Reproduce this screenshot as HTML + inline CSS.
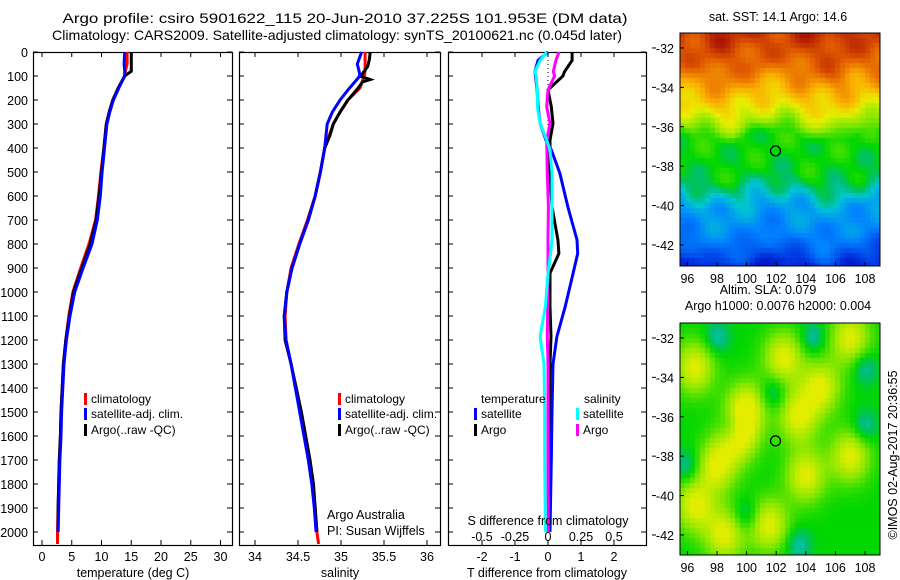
<!DOCTYPE html>
<html><head><meta charset="utf-8"><style>
body{margin:0;background:#fff;}
#wrap{position:relative;width:900px;height:580px;overflow:hidden;font-family:"Liberation Sans",sans-serif;}
svg text{font-family:"Liberation Sans",sans-serif;fill:#000;}
canvas{position:absolute;}
</style></head><body>
<div id="wrap">
<svg id="svg" width="900" height="580" style="position:absolute;left:0;top:0"></svg>
<canvas id="sst" width="200" height="233" style="left:680px;top:33px"></canvas>
<canvas id="sla" width="200" height="232" style="left:680px;top:323px"></canvas>
<svg id="ov" width="900" height="580" style="position:absolute;left:0;top:0"></svg>
</div>
<script>
// ---- data ----
const tDepth=[0,50,80,100,150,200,250,300,400,500,600,700,800,900,1000,1100,1200,1300,1400,1500,1600,1700,1800,1900,2000,2050];
const tempClim=[14.3,14.3,14.0,13.9,12.8,11.9,11.3,10.8,10.4,9.9,9.5,9.0,7.9,6.5,5.2,4.5,4.0,3.6,3.4,3.2,3.1,2.9,2.8,2.7,2.6,2.6];
const tempSat=[13.9,13.8,13.9,13.9,12.9,12.0,11.4,10.9,10.5,10.1,9.8,9.3,8.4,6.9,5.5,4.7,4.1,3.7,3.5,3.3,3.2,3.0,2.9,2.8,2.7];
const tempArgo=[15.0,15.0,15.0,13.9,12.8,11.9,11.3,10.8,10.4,10.0,9.6,9.1,8.1,6.7,5.3,4.6,4.0,3.6,3.4,3.2,3.1,2.9,2.8,2.7,2.7];
const salClim=[35.28,35.28,35.28,35.27,35.22,35.08,34.99,34.91,34.81,34.76,34.70,34.61,34.51,34.42,34.37,34.35,34.36,34.42,34.47,34.53,34.58,34.63,34.67,34.70,34.72,34.74];
const salSat=[35.24,35.19,35.21,35.22,35.10,34.99,34.90,34.84,34.81,34.76,34.70,34.62,34.52,34.43,34.37,34.34,34.36,34.42,34.47,34.52,34.57,34.62,34.66,34.69,34.71];
const salArgoDepth=[0,30,60,90,100,115,125,150,200,250,300,350,400,500,600,700,800,900,1000,1100,1200,1300,1400,1500,1600,1700,1800,1900,2000];
const salArgo=[35.34,35.33,35.31,35.25,35.22,35.34,35.25,35.20,35.08,34.99,34.91,34.87,34.81,34.76,34.70,34.62,34.52,34.43,34.37,34.34,34.35,34.42,34.48,34.54,34.59,34.64,34.68,34.70,34.72];
const dDepth=[0,35,82,100,158,228,297,367,408,506,644,783,839,922,1061,1186,1300,1500,1700,2000];
const dTsat=[0,-0.3,-0.4,-0.38,-0.33,-0.3,-0.24,-0.06,0.1,0.36,0.6,0.88,0.9,0.76,0.52,0.27,0.15,0.12,0.1,0.06];
const dTargo=[0.73,0.73,0.5,0.45,0,0.1,0.15,0.06,0.06,0.06,0.12,0.3,0.33,0.06,0.06,0.09,0.06,0.05,0.05,0.04];
const dSsat=[-0.01,-0.06,-0.1,-0.09,-0.08,-0.08,-0.06,-0.01,0.015,0.03,0.03,0.03,0.02,0.0,-0.02,-0.06,-0.03,-0.025,-0.025,-0.02];
const dSargo=[0.083,0.06,0.04,0.05,0.0,-0.01,0.015,-0.01,-0.008,-0.005,0.003,0.0,0.0,0.0,-0.003,-0.005,0.0,0.0,0.0,0.002];
const depthTicks=[0,100,200,300,400,500,600,700,800,900,1000,1100,1200,1300,1400,1500,1600,1700,1800,1900,2000];
const tempTicks=[0,5,10,15,20,25,30];
const salTicks=[34,34.5,35,35.5,36];
const salTickLabels=["34","34.5","35","35.5","36"];
const dTTicks=[-2,-1,0,1,2];
const dSTicks=[-0.5,-0.25,0,0.25,0.5];
const dSTickLabels=["-0.5","-0.25","0","0.25","0.5"];
const lonTicks=[96,98,100,102,104,106,108];
const latTicks=[-32,-34,-36,-38,-40,-42];

// ---- scales ----
const TOP=52,BOT=545;
const yD=d=>TOP+d*0.24;
const xT=t=>42+t*5.95;
const xS=s=>255+(s-34)*86;
const xDT=t=>548+t*33;
const xDS=s=>548+s*132;
const mapX=lon=>(lon-95.5)*14.8;
const mapY=lat=>(-31.24-lat)*19.7;

const NS="http://www.w3.org/2000/svg";
const svg=document.getElementById('svg');
function el(tag,attrs,parent){const e=document.createElementNS(NS,tag);for(const k in attrs)e.setAttribute(k,attrs[k]);(parent||svg).appendChild(e);return e;}
function txt(x,y,s,anchor,parent,extra){const t=el('text',Object.assign({x:x,y:y,'text-anchor':anchor||'start',style:'font-size:12.5px'},extra||{}),parent);t.textContent=s;return t;}

function panel(x0,x1,name){
  const g=el('g',{});
  
  
  el('rect',{x:x0+0.5,y:TOP+0.5,width:x1-x0,height:BOT-TOP,fill:'none',stroke:'#000','stroke-width':1.2},g);
  depthTicks.forEach(d=>{el('line',{x1:x0,x2:x0+5,y1:yD(d),y2:yD(d),stroke:'#000'},g);el('line',{x1:x1-5,x2:x1,y1:yD(d),y2:yD(d),stroke:'#000'},g);});
  return g;
}
function line(g,xs,ds,fx,color,name,w){
  const p=xs.map((v,i)=>fx(v).toFixed(1)+','+yD(ds[i]).toFixed(1)).join(' ');
  const l=el('polyline',{points:p,fill:'none',stroke:color,'stroke-width':w||3,'stroke-linejoin':'miter'},g);
  
  
}
function legend(g,x,y,color,label,name){
  el('rect',{x:x,y:y-10,width:3,height:12,fill:color},g);
  const t=txt(x+7,y,label,'start',g,{style:'font-size:12px'});
  
  
}

// titles
const t1=txt(345,23,'Argo profile: csiro 5901622_115 20-Jun-2010 37.225S 101.953E (DM data)','middle',null,{style:'font-size:14px',textLength:565,lengthAdjust:'spacingAndGlyphs'});


const t2=txt(337,40,'Climatology: CARS2009. Satellite-adjusted climatology: synTS_20100621.nc (0.045d later)','middle',null,{style:'font-size:14px',textLength:570,lengthAdjust:'spacingAndGlyphs'});



// depth labels
const dl=el('g',{});


depthTicks.forEach(d=>txt(28,yD(d)+5,String(d),'end',dl));

// panel 1 temperature
const p1=panel(33,232,'temperature-panel');
tempTicks.forEach(t=>{el('line',{x1:xT(t),x2:xT(t),y1:TOP,y2:TOP+5,stroke:'#000'},p1);el('line',{x1:xT(t),x2:xT(t),y1:BOT-5,y2:BOT,stroke:'#000'},p1);txt(xT(t),561,String(t),'middle',p1);});
line(p1,tempClim,tDepth,xT,'#f00','temp-climatology-line');
line(p1,tempArgo,tDepth,xT,'#000','temp-argo-line');
line(p1,tempSat,tDepth,xT,'#00f','temp-satellite-line');
legend(p1,84,403,'#f00','climatology','legend-climatology');
legend(p1,84,418,'#00f','satellite-adj. clim.','legend-satellite');
legend(p1,84,434,'#000','Argo(..raw -QC)','legend-argo');
const xt1=txt(133,577,'temperature (deg C)','middle',p1);



// panel 2 salinity
const p2=panel(239,440,'salinity-panel');
salTicks.forEach((s,i)=>{el('line',{x1:xS(s),x2:xS(s),y1:TOP,y2:TOP+5,stroke:'#000'},p2);el('line',{x1:xS(s),x2:xS(s),y1:BOT-5,y2:BOT,stroke:'#000'},p2);txt(xS(s),561,salTickLabels[i],'middle',p2);});
line(p2,salClim,tDepth,xS,'#f00','sal-climatology-line');
line(p2,salArgo,salArgoDepth,xS,'#000','sal-argo-line');
line(p2,salSat,tDepth,xS,'#00f','sal-satellite-line');
legend(p2,338,403,'#f00','climatology','legend-climatology-2');
legend(p2,338,418,'#00f','satellite-adj. clim.','legend-satellite-2');
legend(p2,338,434,'#000','Argo(..raw -QC)','legend-argo-2');
txt(327,519,'Argo Australia','start',p2);
txt(327,535,'PI: Susan Wijffels','start',p2);
const xt2=txt(340,577,'salinity','middle',p2);



// panel 3 differences
const p3=panel(448,646,'difference-panel');
dTTicks.forEach(t=>{el('line',{x1:xDT(t),x2:xDT(t),y1:TOP,y2:TOP+5,stroke:'#000'},p3);el('line',{x1:xDT(t),x2:xDT(t),y1:BOT-5,y2:BOT,stroke:'#000'},p3);txt(xDT(t),561,String(t),'middle',p3);});
dSTicks.forEach((s,i)=>txt(xDS(s),541,dSTickLabels[i],'middle',p3));
el('line',{x1:xDT(0),x2:xDT(0),y1:yD(0),y2:yD(2000),stroke:'#000','stroke-dasharray':'1,3','stroke-width':1},p3);
line(p3,dTargo,dDepth,xDT,'#000','dT-argo-line');
line(p3,dTsat,dDepth,xDT,'#00f','dT-satellite-line');
line(p3,dSargo,dDepth,xDS,'#f0f','dS-argo-line');
line(p3,dSsat,dDepth,xDS,'#0ff','dS-satellite-line');
txt(481,403,'temperature','start',p3,{style:'font-size:12px'});
legend(p3,474,418,'#00f','satellite','legend-dT-satellite');
legend(p3,474,434,'#000','Argo','legend-dT-argo');
txt(584,403,'salinity','start',p3,{style:'font-size:12px'});
legend(p3,576,418,'#0ff','satellite','legend-dS-satellite');
legend(p3,576,434,'#f0f','Argo','legend-dS-argo');
txt(548,525,'S difference from climatology','middle',p3);
const xt3=txt(547,577,'T difference from climatology','middle',p3);



// ---- maps ----
const cmStops=[0,0.15,0.3,0.4,0.45,0.5,0.6,0.7,0.8,0.9,1];
const cmCols=[[0,0,130],[0,40,220],[0,130,255],[0,200,210],[0,190,110],[0,215,0],[140,232,0],[235,238,0],[250,170,0],[225,90,0],[165,10,0]];
function cmap(v){v=Math.max(0,Math.min(1,v));for(let i=0;i<cmStops.length-1;i++){if(v<=cmStops[i+1]){const f=(v-cmStops[i])/(cmStops[i+1]-cmStops[i]);return cmCols[i].map((c,k)=>Math.round(c+f*(cmCols[i+1][k]-c)));}}return cmCols[cmCols.length-1];}
const sstLat=[-31.2,-33,-34,-35,-35.8,-36.5,-38.5,-39.2,-40,-41.5,-42.5,-43.1];
const sstVal=[0.95,0.88,0.8,0.72,0.62,0.51,0.49,0.43,0.35,0.3,0.22,0.14];
function interp(lat){for(let i=0;i<sstLat.length-1;i++){if(lat<=sstLat[i]&&lat>=sstLat[i+1]){const f=(lat-sstLat[i])/(sstLat[i+1]-sstLat[i]);return sstVal[i]+f*(sstVal[i+1]-sstVal[i]);}}return lat>sstLat[0]?sstVal[0]:sstVal[sstVal.length-1];}
function drawMap(id,fn){const c=document.getElementById(id),ctx=c.getContext('2d');const B=5;
  for(let y=0;y<c.height;y+=B)for(let x=0;x<c.width;x+=B){const lon=95.5+(x+B/2)/14.8,lat=-31.24-(y+B/2)/19.7;const [r,g,b]=cmap(fn(lon,lat));ctx.fillStyle=`rgb(${r},${g},${b})`;ctx.fillRect(x,y,B,B);} }
drawMap('sst',(lon,lat)=>interp(lat+0.3*Math.sin(lon*0.9+1)+0.15*Math.sin(lon*2.3+lat*0.5))+0.025*Math.sin(lon*2.1+lat*1.9)+0.02*Math.cos(lon*1.3-lat*2.7));
const yb=[[102.5,-33],[96.5,-33.5],[100,-35.5],[98,-38.5],[107,-38],[101.5,-41.5],[96.5,-40.5],[98.5,-42],[105,-34.5],[104,-39],[99.5,-37],[107,-32],[103.5,-36]];
const cb=[[101.8,-34.8],[99,-36.5],[96,-38.5],[103.5,-42.5],[104.5,-32],[108,-33.5],[108,-36.5],[100,-41],[98,-32]];
drawMap('sla',(lon,lat)=>{let v=0.5;yb.forEach(([a,b])=>{v+=0.19*Math.exp(-((lon-a)**2+(lat-b)**2)/1.8);});cb.forEach(([a,b])=>{v-=0.09*Math.exp(-((lon-a)**2+(lat-b)**2)/0.7);});return Math.min(v,0.69);});

const ov=document.getElementById('ov');
function mapAxes(top,h,title1,title2,name){
  const g=document.createElementNS(NS,'g');ov.appendChild(g);
  
  
  el('rect',{x:680,y:top,width:200,height:h,fill:'none',stroke:'#000'},g);
  latTicks.forEach(l=>{const y=top+mapY(l);el('line',{x1:680,x2:684,y1:y,y2:y,stroke:'#000'},g);el('line',{x1:652,x2:656,y1:y,y2:y,stroke:'#000'},g);txt(674,y+5,String(l),'end',g);});
  lonTicks.forEach(l=>{const x=680+mapX(l);el('line',{x1:x,x2:x,y1:top+h-4,y2:top+h,stroke:'#000'},g);txt(x,top+h+17,String(l),'middle',g);});
  const cx=680+mapX(101.953),cy=top+mapY(-37.225);
  const m=el('circle',{cx:cx,cy:cy,r:5,fill:'none',stroke:'#000','stroke-width':1.2},g);
  
  
  if(title2){txt(768,top-29,title1,'middle',g);txt(778,top-13,title2,'middle',g);}else txt(778,top-12,title1,'middle',g);
}
mapAxes(33,233,'sat. SST: 14.1  Argo: 14.6',null,'sst-map-axes');
mapAxes(323,232,'Altim. SLA: 0.079','Argo h1000: 0.0076 h2000: 0.004','sla-map-axes');
const cr=txt(0,0,'©IMOS 02-Aug-2017 20:36:55','middle',ov,{transform:'translate(897,455) rotate(-90)'});


</script>
</body></html>
